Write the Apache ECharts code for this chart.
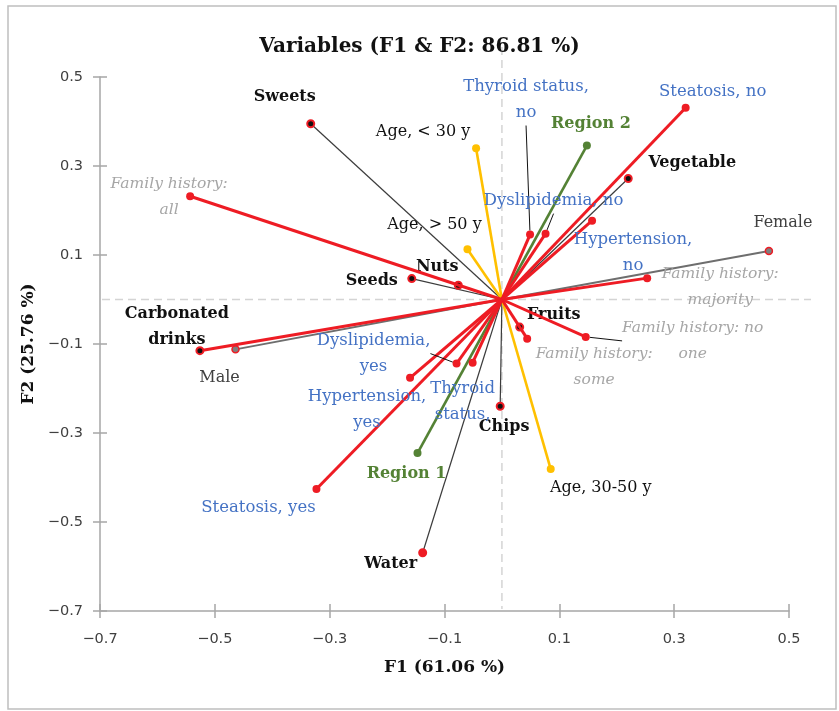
<!DOCTYPE html>
<html>
<head>
<meta charset="utf-8">
<title>Variables (F1 &amp; F2)</title>
<script src="https://cdn.jsdelivr.net/npm/echarts@6/dist/echarts.min.js"></script>
<style>
  html, body { margin: 0; padding: 0; background: #fff; }
  #chart { width: 839px; height: 711px; }
</style>
</head>
<body>
<div id="chart"></div>
<script>
// ---- PCA loadings: variable names, label text, F1 / F2 coordinates, variable type ----
const variableNames = [
  'Sweets', 'Nuts', 'Seeds', 'Vegetable', 'Fruits', 'Chips', 'Water', 'Carbonated drinks',
  'Female', 'Male',
  'Age, < 30 y', 'Age, > 50 y', 'Age, 30-50 y',
  'Region 1', 'Region 2',
  'Family history: all', 'Family history: majority', 'Family history: some', 'Family history: no one',
  'Thyroid status, no', 'Dyslipidemia, no', 'Hypertension, no', 'Steatosis, no',
  'Thyroid status, yes', 'Dyslipidemia, yes', 'Hypertension, yes', 'Steatosis, yes'
];
const labelTexts = [
  'Sweets', 'Nuts', 'Seeds', 'Vegetable', 'Fruits', 'Chips', 'Water', 'Carbonated\ndrinks',
  'Female', 'Male',
  'Age, < 30 y', 'Age, > 50 y', 'Age, 30-50 y',
  'Region 1', 'Region 2',
  'Family history:\nall', 'Family history:\nmajority', 'Family history:\nsome', 'Family history: no\none',
  'Thyroid status,\nno', 'Dyslipidemia, no', 'Hypertension,\nno', 'Steatosis, no',
  'Thyroid\nstatus,', 'Dyslipidemia,\nyes', 'Hypertension,\nyes', 'Steatosis, yes'
];
const f1Values = [
  -0.333, -0.076, -0.157, 0.220, 0.031, -0.003, -0.138, -0.526,
  0.465, -0.464,
  -0.045, -0.060, 0.085,
  -0.147, 0.148,
  -0.543, 0.253, 0.044, 0.146,
  0.049, 0.076, 0.157, 0.320,
  -0.051, -0.079, -0.160, -0.323
];
const f2Values = [
  0.395, 0.032, 0.047, 0.272, -0.062, -0.240, -0.569, -0.115,
  0.109, -0.112,
  0.340, 0.113, -0.381,
  -0.345, 0.346,
  0.232, 0.048, -0.088, -0.084,
  0.146, 0.148, 0.177, 0.431,
  -0.142, -0.144, -0.176, -0.426
];
const variableGroups = [
  'food', 'food', 'food', 'food', 'food', 'food', 'food', 'food',
  'sex', 'sex',
  'age', 'age', 'age',
  'region', 'region',
  'family', 'family', 'family', 'family',
  'health', 'health', 'health', 'health',
  'health', 'health', 'health', 'health'
];
const axisTickValues = [-0.7, -0.5, -0.3, -0.1, 0.1, 0.3, 0.5];

// ---- styling ----
const RED = '#ee1c24';
const SERIF = "'DejaVu Serif', 'Liberation Serif', serif";
const SANS = "'DejaVu Sans', 'Liberation Sans', sans-serif";

const groupStyle = {
  food:   { line: '#3c3c3c', width: 1.2, z: 2, fill: '#111111', border: RED, borderWidth: 2, size: 7,
            text: { color: '#111111', fontWeight: 'bold', fontSize: 16 } },
  sex:    { line: '#6e6e6e', width: 1.8, z: 2, fill: '#7f7f7f', border: RED, borderWidth: 1.5, size: 7,
            text: { color: '#404040', fontSize: 16 } },
  age:    { line: '#ffc000', width: 2.6, z: 3, fill: '#ffc000', border: '#ffc000', borderWidth: 0, size: 8,
            text: { color: '#111111', fontSize: 16 } },
  region: { line: '#548235', width: 2.6, z: 3, fill: '#548235', border: '#548235', borderWidth: 0, size: 8,
            text: { color: '#548235', fontWeight: 'bold', fontSize: 16 } },
  family: { line: RED, width: 3, z: 4, fill: RED, border: RED, borderWidth: 0, size: 8,
            text: { color: '#a6a6a6', fontStyle: 'italic', fontSize: 15.5 } },
  health: { line: RED, width: 3, z: 4, fill: RED, border: RED, borderWidth: 0, size: 8,
            text: { color: '#4472c4', fontSize: 16.5 } }
};
// a few vectors deviate from their group's look
const lineOverride = { 'Carbonated drinks': { color: RED, width: 3, z: 4 } };
const markerOverride = { 'Water': { fill: RED } };

// label placement relative to the arrow tip, in pixels
const labelShift = {
  'Sweets': [-26, -27], 'Nuts': [-21, -18], 'Seeds': [-40, 2], 'Vegetable': [64, -16],
  'Fruits': [34, -12], 'Chips': [4, 21], 'Water': [-32, 11], 'Carbonated drinks': [-23, -24],
  'Female': [14, -28], 'Male': [-16, 29],
  'Age, < 30 y': [-53, -16], 'Age, > 50 y': [-33, -24], 'Age, 30-50 y': [50, 19],
  'Region 1': [-11, 21], 'Region 2': [4, -22],
  'Family history: all': [-21, 1], 'Family history: majority': [73, 9],
  'Family history: some': [67, 28], 'Family history: no one': [107, 4],
  'Thyroid status, no': [-4, -135], 'Dyslipidemia, no': [8, -33],
  'Hypertension, no': [41, 32], 'Steatosis, no': [27, -16],
  'Thyroid status, yes': [-10, 39], 'Dyslipidemia, yes': [-83, -10],
  'Hypertension, yes': [-43, 32], 'Steatosis, yes': [-58, 19]
};
// labels that sit away from their tip and are tied to it by a thin guide line
const leaderNames = ['Family history: no one', 'Thyroid status, no', 'Dyslipidemia, no', 'Dyslipidemia, yes'];

const series = variableNames.map((name, i) => {
  const st = groupStyle[variableGroups[i]];
  const lo = lineOverride[name] || {};
  const mo = markerOverride[name] || {};
  const shift = labelShift[name];
  const leader = leaderNames.indexOf(name) >= 0;
  const s = {
    type: 'line',
    name: name,
    xAxisIndex: 0,
    yAxisIndex: 0,
    z: lo.z || st.z,
    silent: true,
    animation: false,
    showSymbol: true,
    symbol: 'circle',
    symbolSize: st.size,
    lineStyle: { color: lo.color || st.line, width: lo.width || st.width },
    itemStyle: { color: mo.fill || st.fill, borderColor: st.border, borderWidth: st.borderWidth },
    label: { show: false },
    emphasis: { disabled: true },
    data: [
      { value: [0, 0], symbol: 'none', label: { show: false } },
      {
        value: [f1Values[i], f2Values[i]],
        label: Object.assign({
          show: true,
          position: 'inside',
          align: 'center',
          verticalAlign: 'middle',
          lineHeight: 26,
          fontFamily: SERIF,
          formatter: labelTexts[i],
          offset: leader ? [0, 0] : shift
        }, st.text)
      }
    ]
  };
  if (leader) {
    s.labelLayout = { dx: shift[0], dy: shift[1] };
    s.labelLine = { show: true, lineStyle: { color: '#111111', width: 1 } };
  }
  return s;
});

const fmt = v => (v < 0 ? '\u2212' : '') + Math.abs(v).toFixed(1);

function valueAxis(extra) {
  return Object.assign({
    type: 'value',
    min: -0.7,
    max: 0.5,
    splitLine: { show: false },
    axisLine: { onZero: false, lineStyle: { color: '#a6a6a6', width: 1.5 } },
    axisTick: { show: true, length: 7, customValues: axisTickValues, lineStyle: { color: '#a6a6a6', width: 1.5 } },
    axisLabel: { show: true, customValues: axisTickValues, formatter: fmt,
                 fontFamily: SANS, fontSize: 14.5, color: '#404040' }
  }, extra);
}

const chart = echarts.init(document.getElementById('chart'), null, { renderer: 'canvas' });

const gridRect = { left: 100, right: 50, top: 77, bottom: 100 };

chart.setOption({
  animation: false,
  backgroundColor: '#ffffff',
  title: {
    text: 'Variables (F1 & F2: 86.81 %)',
    left: 'center',
    top: 32,
    textStyle: { fontFamily: SERIF, fontWeight: 'bold', fontSize: 20, color: '#111111' }
  },
  grid: [
    Object.assign({ containLabel: false }, gridRect),
    Object.assign({ containLabel: false }, gridRect)
  ],
  xAxis: [
    valueAxis({
      gridIndex: 0, position: 'bottom',
      name: 'F1 (61.06 %)', nameLocation: 'middle', nameGap: 48,
      nameTextStyle: { fontFamily: SERIF, fontWeight: 'bold', fontSize: 17, color: '#111111' },
      axisLabel: { show: true, customValues: axisTickValues, formatter: fmt, margin: 21,
                   fontFamily: SANS, fontSize: 14.5, color: '#404040' }
    }),
    // second copy of the axis carries the inward half of the crossing ticks
    valueAxis({
      gridIndex: 1, position: 'bottom',
      axisLine: { show: false, onZero: false },
      axisTick: { show: true, inside: true, length: 7, customValues: axisTickValues, lineStyle: { color: '#a6a6a6', width: 1.5 } },
      axisLabel: { show: false }
    })
  ],
  yAxis: [
    valueAxis({
      gridIndex: 0, position: 'left',
      name: 'F2 (25.76 %)', nameLocation: 'middle', nameGap: 59, nameRotate: 90,
      nameTextStyle: { fontFamily: SERIF, fontWeight: 'bold', fontSize: 17, color: '#111111' },
      axisLabel: { show: true, customValues: axisTickValues, formatter: fmt, margin: 17,
                   fontFamily: SANS, fontSize: 14.5, color: '#404040' }
    }),
    valueAxis({
      gridIndex: 1, position: 'left',
      axisLine: { show: false, onZero: false },
      axisTick: { show: true, inside: true, length: 7, customValues: axisTickValues, lineStyle: { color: '#a6a6a6', width: 1.5 } },
      axisLabel: { show: false }
    })
  ],
  series: series
});

// dashed zero lines (running a little past the plot like the original frame) and the outer border
const origin = chart.convertToPixel({ gridIndex: 0 }, [0, 0]);
const topLeft = chart.convertToPixel({ gridIndex: 0 }, [-0.7, 0.5]);
const bottomRight = chart.convertToPixel({ gridIndex: 0 }, [0.5, -0.7]);
const dashStyle = { stroke: '#d4d4d4', lineWidth: 1.5, lineDash: [8, 5] };

chart.setOption({
  graphic: [
    { type: 'rect', z: -1, shape: { x: 8, y: 6, width: 828, height: 703 },
      style: { fill: 'none', stroke: '#bfbfbf', lineWidth: 1.5 } },
    { type: 'line', z: 0, shape: { x1: origin[0], y1: topLeft[1] - 30, x2: origin[0], y2: bottomRight[1] - 2 },
      style: dashStyle },
    { type: 'line', z: 0, shape: { x1: topLeft[0] + 2, y1: origin[1], x2: bottomRight[0] + 22, y2: origin[1] },
      style: dashStyle }
  ]
});
</script>
</body>
</html>
